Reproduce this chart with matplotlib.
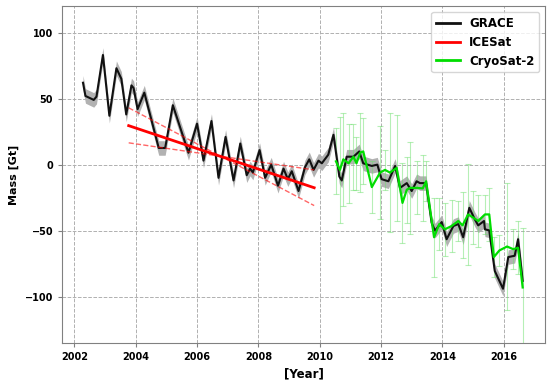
import numpy as np
from matplotlib import pyplot as plt

# GRACE monthly mass anomaly (Gt)
grace_t = [2002.28, 2002.36, 2002.63, 2002.72, 2002.93, 2003.14, 2003.37, 2003.53, 2003.69,
           2003.86, 2003.93, 2004.06, 2004.28, 2004.75, 2004.96, 2005.21, 2005.72, 2006.0,
           2006.21, 2006.47, 2006.70, 2006.93, 2007.19, 2007.41, 2007.62, 2007.73, 2007.82,
           2008.04, 2008.22, 2008.42, 2008.64, 2008.82, 2008.96, 2009.09, 2009.31, 2009.52,
           2009.66, 2009.80, 2009.96, 2010.07, 2010.28, 2010.45, 2010.64, 2010.72, 2010.88,
           2011.10, 2011.29, 2011.42, 2011.70, 2011.88, 2012.02, 2012.24, 2012.46, 2012.62,
           2012.84, 2013.0, 2013.16, 2013.27, 2013.47, 2013.65, 2013.76, 2013.98, 2014.14,
           2014.36, 2014.52, 2014.68, 2014.88, 2015.06, 2015.17, 2015.36, 2015.39, 2015.53,
           2015.71, 2015.98, 2016.15, 2016.36, 2016.47, 2016.62]
grace_m = [62, 52, 49, 51.5, 83, 37, 73, 65, 38,
           60, 58, 42, 54.5, 12.6, 12.6, 45, 9, 31,
           3, 33, -10, 21, -12, 16, -8, -3, -6,
           11, -10, 0, -16, -3, -11, -5, -20, -2,
           4, -4, 3, 1, 7.5, 22.6, -9, -12, 6,
           6, 10, 1, -1, 0, -11, -12.6, -1, -17.6,
           -14, -20, -12.6, -14, -14, -44, -50, -43.5, -56.5,
           -46.5, -45, -55, -32.7, -41.5, -46, -42.7, -49, -49.8,
           -80.5, -94, -70, -69, -56.5, -88]
grace_sigma = 5.5

# ICESat trend and its bounds
icesat_t = [2003.77, 2009.82]
icesat_m = [29.5, -17.5]
icesat_hi = [43, -31]
icesat_lo = [16.5, -4]

# CryoSat-2
cs2_t = [2010.53, 2010.66, 2010.77, 2010.94, 2011.10, 2011.20, 2011.32, 2011.42, 2011.70,
         2011.97, 2012.13, 2012.29, 2012.51, 2012.70, 2012.84, 2012.95, 2013.16, 2013.36,
         2013.47, 2013.73, 2013.90, 2014.08, 2014.30, 2014.52, 2014.66, 2014.84, 2015.00,
         2015.17, 2015.39, 2015.53, 2015.68, 2015.86, 2016.11, 2016.31, 2016.47, 2016.62]
cs2_m = [2.5, -4, 4, 1, 6, 1, 9, 10, -17,
         -6, -4, -6, -2.5, -29, -19, -17.6, -17.6, -18,
         -12.6, -55, -45, -49, -46.5, -42.7, -46, -37.7, -40,
         -42.7, -37.7, -37.7, -70, -65, -62, -64, -63, -93]
cs2_err = [25, 40, 35, 30, 25, 20, 30, 25, 20,
           35, 15, 45, 40, 30, 25, 35, 20, 25,
           15, 30, 20, 20, 20, 15, 25, 38, 20,
           20, 15, 20, 15, 12, 48, 15, 20, 45]

fig = plt.figure(figsize=(5.5, 3.84), dpi=100)
ax = fig.add_axes([0.113, 0.107, 0.878, 0.877])

gt = np.array(grace_t)
gm = np.array(grace_m)
ax.fill_between(gt, gm - grace_sigma, gm + grace_sigma, color='grey', alpha=0.6, lw=0)
ax.plot(gt, gm, color='#111111', lw=1.5, label='GRACE', zorder=3)

ax.plot(icesat_t, icesat_m, color='red', lw=2, label='ICESat', zorder=4)
ax.plot(icesat_t, icesat_hi, color='red', lw=1, ls='--', alpha=0.6, zorder=4)
ax.plot(icesat_t, icesat_lo, color='red', lw=1, ls='--', alpha=0.6, zorder=4)

ax.errorbar(cs2_t, cs2_m, yerr=cs2_err, fmt='none', ecolor='#6fe06f', alpha=0.5,
            elinewidth=0.8, capsize=2, capthick=0.8, zorder=2)
ax.plot(cs2_t, cs2_m, color='#00dd00', lw=1.6, label='CryoSat-2', zorder=5)

ax.set_xlim(2001.6, 2017.35)
ax.set_ylim(-135, 120)
ax.set_xticks([2002, 2004, 2006, 2008, 2010, 2012, 2014, 2016])
ax.set_yticks([-100, -50, 0, 50, 100])
ax.grid(True, ls='--', color='#b0b0b0', lw=0.7)
ax.tick_params(labelsize=7, length=3, color='grey')
for lbl in ax.get_xticklabels() + ax.get_yticklabels():
    lbl.set_fontweight('bold')
for sp in ax.spines.values():
    sp.set_color('grey')
ax.set_xlabel('[Year]', fontsize=8.5, fontweight='bold')
ax.set_ylabel('Mass [Gt]', fontsize=8, fontweight='bold')

leg = ax.legend(loc='upper right', prop={'size': 8.5, 'weight': 'bold'})
for line in leg.get_lines():
    line.set_linewidth(2)

fig.savefig('out.png', dpi=100)
